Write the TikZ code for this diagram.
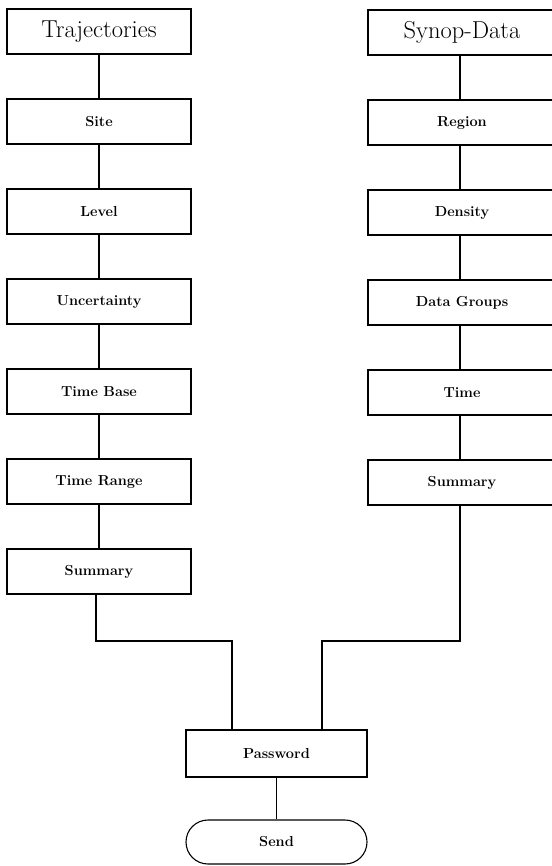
\documentclass[tikz,border=0pt]{standalone}
\begin{document}
\begin{tikzpicture}[x=1pt,y=-1pt,
  line width=1.1pt,
  title/.style={draw, rectangle, minimum width=184pt, minimum height=45pt, inner sep=0pt, font=\fontsize{24.5}{28}\selectfont},
  box/.style={draw, rectangle, minimum width=184pt, minimum height=45pt, inner sep=0pt, font=\fontsize{14.5}{16}\selectfont\bfseries},
  rbox/.style={box, minimum width=188pt},
  rtitle/.style={title, minimum width=188pt},
  term/.style={draw, rectangle, rounded corners=22pt, minimum width=181pt, minimum height=44pt, inner sep=0pt, font=\fontsize{14.5}{16}\selectfont\bfseries},
  link/.style={line width=1.1pt}]
\useasboundingbox (0,0) rectangle (551,866);
% left column
\node[title] (traj) at (99,31.5) {Trajectories};
\node[box] (site) at (99,121.5) {Site};
\node[box] (level) at (99,211.5) {Level};
\node[box] (unc) at (99,301.5) {Uncertainty};
\node[box] (tbase) at (99,391.5) {Time Base};
\node[box] (trange) at (99,481.5) {Time Range};
\node[box] (lsum) at (99,571.5) {Summary};
% right column
\node[rtitle] (synop) at (462,32.5) {Synop-Data};
\node[rbox] (region) at (462,122.5) {Region};
\node[rbox] (density) at (462,212.5) {Density};
\node[rbox] (dgroups) at (462,302.5) {Data Groups};
\node[rbox] (time) at (462,392.5) {Time};
\node[rbox] (rsum) at (462,482.5) {Summary};
% bottom
\node[box, minimum width=181pt, minimum height=47pt] (pass) at (276.5,753.5) {Password};
\node[term] (send) at (276.5,842) {Send};
% connectors
\draw[link] (traj) -- (site);
\draw[link] (site) -- (level);
\draw[link] (level) -- (unc);
\draw[link] (unc) -- (tbase);
\draw[link] (tbase) -- (trange);
\draw[link] (trange) -- (lsum);
\draw[link] ([xshift=-2pt]synop.south) -- ([xshift=-2pt]region.north);
\draw[link] ([xshift=-2pt]region.south) -- ([xshift=-2pt]density.north);
\draw[link] ([xshift=-2pt]density.south) -- ([xshift=-2pt]dgroups.north);
\draw[link] ([xshift=-2pt]dgroups.south) -- ([xshift=-2pt]time.north);
\draw[link] ([xshift=-2pt]time.south) -- ([xshift=-2pt]rsum.north);
\coordinate (lbend) at (96,641);
\coordinate (rbend) at (460,641);
\draw[link] (lsum.south -| lbend) -- (lbend) -- (lbend -| 232,0) -- (pass.north -| 232,0);
\draw[link] (rsum.south -| rbend) -- (rbend) -- (rbend -| 322,0) -- (pass.north -| 322,0);
\draw[link] (pass.south) -- (send.north);
\end{tikzpicture}
\end{document}
